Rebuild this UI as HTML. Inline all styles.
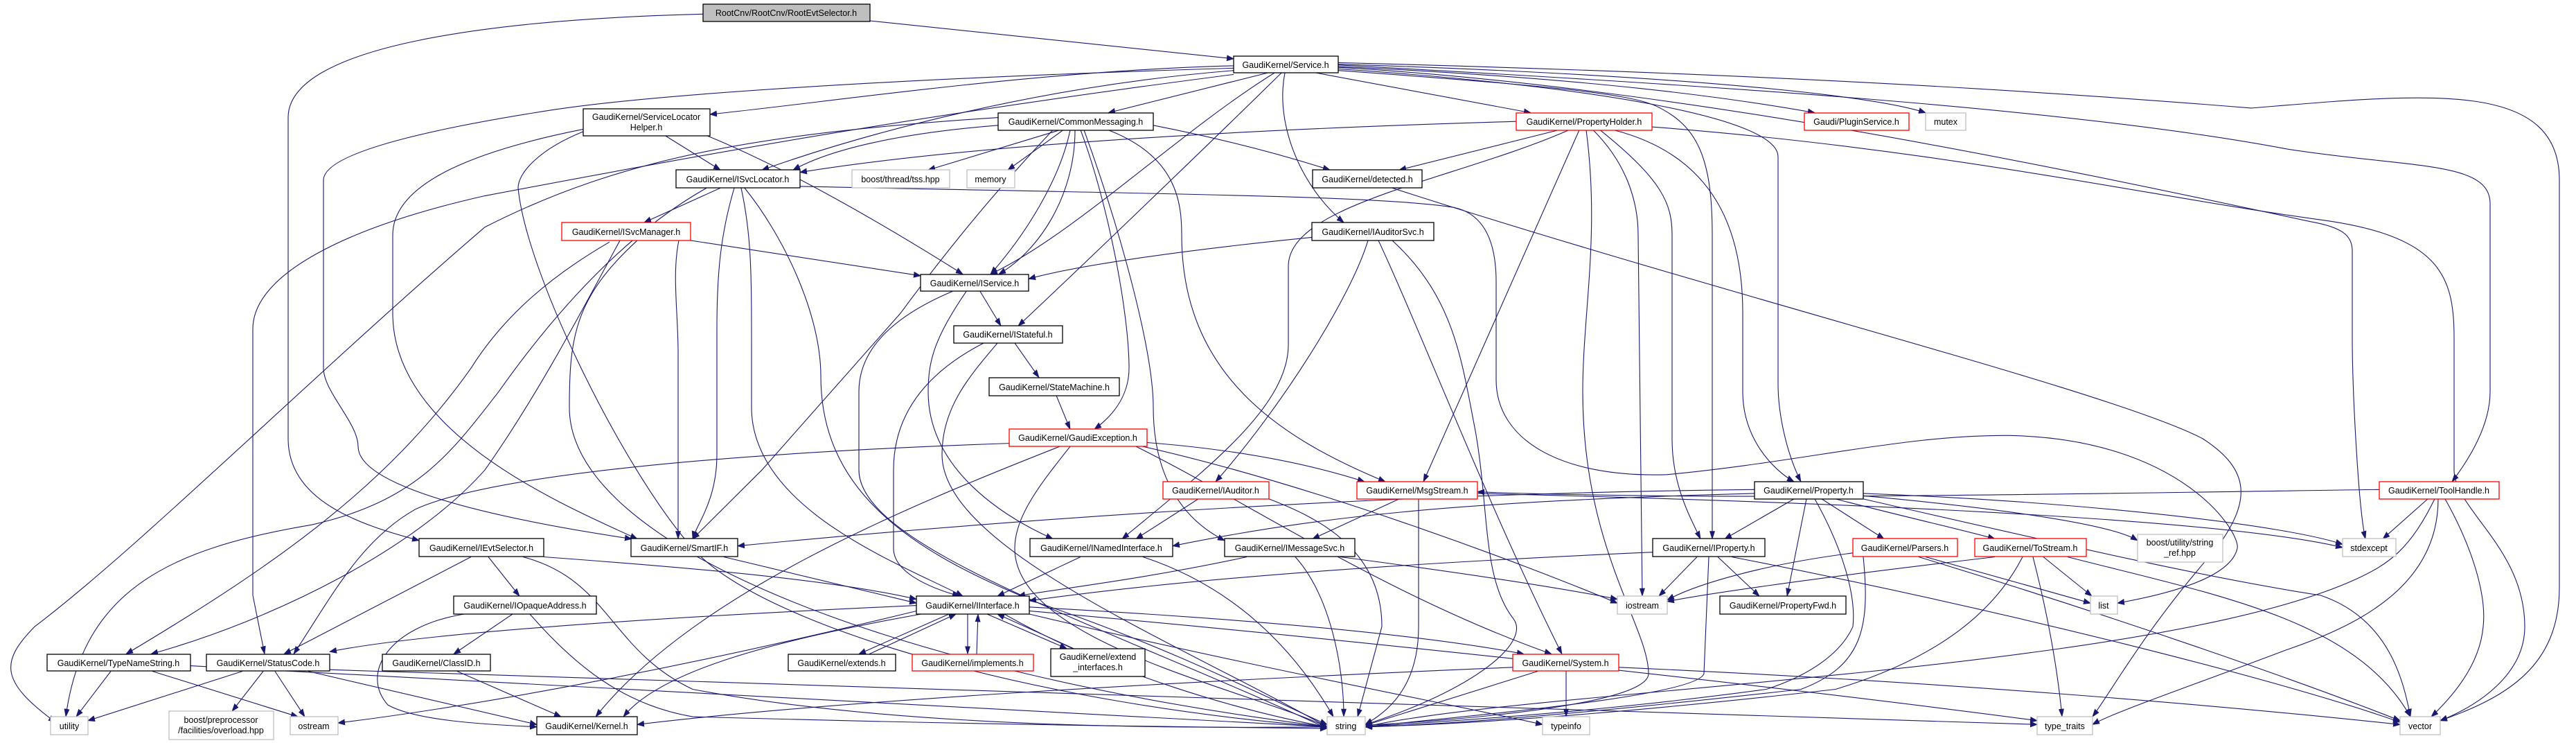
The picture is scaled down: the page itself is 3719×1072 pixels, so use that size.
<!DOCTYPE html>
<html><head><meta charset="utf-8"><style>
html,body{margin:0;padding:0;background:#fff;}
svg{display:block;}
text{font-family:"Liberation Sans",Arial,sans-serif;font-size:12.5px;fill:#000;text-anchor:middle;}
.e path{fill:none;stroke:#191970;stroke-width:1.1;vector-effect:non-scaling-stroke;}
.n{fill:#fff;stroke:#000;stroke-width:1.3;}
.r{fill:#fff;stroke:#ff0000;stroke-width:1.3;}
.g{fill:#fff;stroke:#bfbfbf;stroke-width:1.3;}
</style></head><body>
<svg width="3719" height="1072" viewBox="0 0 3719 1072" xmlns="http://www.w3.org/2000/svg">
<defs><marker id="a" markerUnits="userSpaceOnUse" markerWidth="11" markerHeight="8" refX="10" refY="4" orient="auto"><path d="M0,0 L11,4 L0,8 z" fill="#191970"/></marker></defs>
<g class="e" transform="scale(1,1.1301)" marker-end="url(#a)">
<path d="M1250,26 L1781,75"/>
<path d="M1015,18 C700,25 416,60 416,150 L416,560 C416,640 520,670 605,690"/>
<path d="M1781,84 C1500,90 1200,130 1025,146"/>
<path d="M1830,93 L1600,144"/>
<path d="M1781,90 C1500,110 1250,170 1100,217"/>
<path d="M1840,93 C1700,170 1550,300 1430,350"/>
<path d="M1850,93 C1750,180 1550,350 1470,416"/>
<path d="M1855,93 C1840,160 1880,240 1940,284"/>
<path d="M1900,93 L2210,144"/>
<path d="M1932,85 C2300,100 2500,125 2620,144"/>
<path d="M1932,82 C2400,95 2700,120 2780,144"/>
<path d="M1932,80 C2600,95 3000,120 3250,138 C3500,120 3695,100 3695,230 L3695,750 C3695,850 3620,890 3523,920"/>
<path d="M1932,83 C2500,110 3000,140 3300,190 C3480,215 3595,205 3595,260 L3595,500 C3595,540 3570,580 3540,615"/>
<path d="M1932,86 C2400,110 2900,200 3336,283 C3380,290 3396,300 3396,320 L3396,430 C3396,500 3405,650 3415,688"/>
<path d="M1932,88 C2300,110 2567,150 2567,200 L2567,490 C2567,530 2580,580 2600,615"/>
<path d="M1932,90 C2250,110 2350,120 2390,135 C2450,160 2472,200 2472,300 L2472,688"/>
<path d="M1781,87 C1300,100 950,120 800,140 C580,170 467,200 467,230 L467,470 C467,500 517,540 517,570 C517,620 700,660 912,688"/>
<path d="M1781,95 C1300,150 1000,200 700,250 C500,290 365,350 365,420 L365,760 L382,835"/>
<path d="M1441,160 C1300,170 1200,190 1145,217"/>
<path d="M1530,166 L1340,217"/>
<path d="M1535,166 L1455,217"/>
<path d="M1545,166 C1530,230 1480,300 1430,350"/>
<path d="M1552,166 C1552,250 1500,320 1442,350"/>
<path d="M1560,166 C1600,260 1630,400 1630,470 C1630,510 1600,535 1580,548"/>
<path d="M1565,166 C1620,300 1665,450 1665,520 C1665,600 1700,660 1768,690"/>
<path d="M1600,166 C1700,200 1706,260 1706,300 C1706,480 1850,560 2000,615"/>
<path d="M1665,160 C1780,180 1860,200 1920,217"/>
<path d="M1520,166 C1420,260 1350,340 1300,400 L1100,600 L1000,688"/>
<path d="M2189,155 C1800,165 1400,185 1155,220"/>
<path d="M2250,166 L2020,217"/>
<path d="M2280,166 L2055,615"/>
<path d="M2265,166 C2100,230 1860,260 1860,340 L1860,440 C1860,520 1740,600 1620,688"/>
<path d="M2290,166 C2310,300 2285,400 2285,500 C2285,700 2380,800 2380,860 C2380,900 2100,920 1971,926"/>
<path d="M2300,166 C2350,210 2365,260 2365,300 L2371,761"/>
<path d="M2310,166 C2400,230 2414,260 2414,300 L2414,560 C2414,620 2440,660 2455,688"/>
<path d="M2330,166 C2480,200 2516,300 2516,400 L2516,500 C2516,560 2560,600 2590,615"/>
<path d="M2385,162 C2800,190 3100,250 3345,280 C3520,300 3543,350 3543,430 L3543,600 C3543,650 3645,700 3645,800 C3645,860 3580,900 3523,920"/>
<path d="M1040,240 L930,284"/>
<path d="M1060,240 C1040,300 1035,350 1035,420 L1035,580 C1035,640 1005,670 1000,688"/>
<path d="M980,307 C970,350 979,400 979,450 L979,688"/>
<path d="M1070,240 C1085,300 1085,350 1085,450 L1085,520 C1085,650 1300,720 1390,761"/>
<path d="M1075,240 C1130,300 1185,400 1185,480 C1185,620 1300,700 1500,770 C1700,830 1850,900 1916,925"/>
<path d="M1155,238 C1700,248 2000,250 2100,265 C2150,275 2160,320 2160,360 L2160,485 C2160,560 2250,610 2406,606 C2600,590 2750,555 2900,556 C3150,560 3235,680 3230,700 C3220,740 3120,760 3057,770"/>
<path d="M997,307 L1329,352"/>
<path d="M880,309 C800,350 730,400 680,470 C560,620 400,720 182,835"/>
<path d="M895,307 C850,380 780,500 700,600 C600,700 400,790 218,835"/>
<path d="M920,307 C830,380 822,430 822,520 C822,700 1300,860 1916,928"/>
<path d="M1415,372 L1445,416"/>
<path d="M1395,372 C1350,430 1340,460 1340,500 C1340,600 1450,660 1520,688"/>
<path d="M1375,372 C1300,400 1240,440 1240,500 L1240,600 C1240,700 1600,800 1916,930"/>
<path d="M1465,438 L1500,482"/>
<path d="M1420,438 C1350,470 1290,520 1290,600 L1290,700 C1290,730 1340,750 1385,761"/>
<path d="M1440,438 C1400,480 1360,520 1360,580 C1360,700 1700,820 1916,928"/>
<path d="M1525,505 L1545,548"/>
<path d="M1457,566 C1000,580 700,610 600,650 C520,690 480,760 424,835"/>
<path d="M1530,570 C1300,650 1000,760 860,915"/>
<path d="M1545,570 C1500,620 1465,660 1465,700 C1465,820 1800,880 1916,928"/>
<path d="M1640,570 C1800,640 2000,760 2240,835"/>
<path d="M1650,570 C1900,620 2200,720 2335,770"/>
<path d="M1656,565 C1800,575 1900,595 1970,615"/>
<path d="M1894,303 C1700,320 1550,340 1485,356"/>
<path d="M1975,307 C1950,380 1850,520 1755,615"/>
<path d="M1990,307 C2050,420 2150,650 2255,835"/>
<path d="M2010,307 C2100,380 2110,460 2130,550 C2150,650 2140,740 2185,790 C2210,820 2130,880 1971,925"/>
<path d="M1730,637 L1640,688"/>
<path d="M1832,637 C1900,660 1995,700 1995,800 L1960,915"/>
<path d="M2020,637 L1895,688"/>
<path d="M2048,637 L2048,800 C2048,880 2000,910 1971,925"/>
<path d="M2133,630 C2600,640 3200,660 3382,699"/>
<path d="M1800,711 C1650,740 1500,755 1470,761"/>
<path d="M1870,711 C1920,760 1940,850 1940,915"/>
<path d="M1935,711 C2100,730 2250,750 2335,765"/>
<path d="M1560,711 L1440,761"/>
<path d="M1650,711 C1750,740 1850,800 1925,915"/>
<path d="M1045,711 L1323,770"/>
<path d="M705,711 L750,761"/>
<path d="M680,711 L410,835"/>
<path d="M785,711 C1000,725 1200,740 1323,765"/>
<path d="M755,711 C880,740 880,830 1000,880 C1300,930 1700,930 1916,928"/>
<path d="M740,784 L655,835"/>
<path d="M670,784 C560,800 520,860 560,900 C600,920 700,925 775,928"/>
<path d="M765,784 C830,850 900,900 1000,915 C1400,925 1700,928 1916,930"/>
<path d="M1370,784 L1240,835"/>
<path d="M1255,835 L1380,784"/>
<path d="M1397,784 L1397,835"/>
<path d="M1410,835 L1412,784"/>
<path d="M1425,784 L1540,828"/>
<path d="M1550,828 L1440,784"/>
<path d="M1323,773 C900,790 600,810 476,832"/>
<path d="M1330,784 C1100,820 950,860 900,915"/>
<path d="M1323,780 C1000,850 700,900 488,923"/>
<path d="M1486,775 C1800,790 2050,810 2200,835"/>
<path d="M1486,780 C2000,820 2600,880 2941,920"/>
<path d="M1486,784 C1800,850 2100,900 2227,925"/>
<path d="M1450,784 C1600,860 1800,910 1916,928"/>
<path d="M2184,852 C1700,870 1200,895 920,925"/>
<path d="M2220,857 L1971,926"/>
<path d="M2261,857 L2261,915"/>
<path d="M2337,852 C2800,870 3200,900 3465,925"/>
<path d="M2590,637 L2490,688"/>
<path d="M2608,637 L2580,761"/>
<path d="M2630,637 L2720,688"/>
<path d="M2650,637 C2750,660 2850,680 2880,688"/>
<path d="M2690,633 C2900,650 3050,670 3086,690"/>
<path d="M2690,630 C3000,640 3300,670 3382,695"/>
<path d="M2620,637 C2660,700 2680,760 2675,800 C2660,830 2620,860 2550,880 C2300,910 2100,920 1971,928"/>
<path d="M2690,637 C3000,700 3200,740 3350,760 C3450,790 3470,870 3480,915"/>
<path d="M2533,625 C2000,630 1500,660 1065,697"/>
<path d="M2533,630 C2100,640 1900,660 1693,697"/>
<path d="M2450,711 L2395,761"/>
<path d="M2480,711 L2540,761"/>
<path d="M2467,711 L2460,860 C2450,890 2100,915 1971,928"/>
<path d="M2386,705 C2000,720 1700,740 1486,767"/>
<path d="M2500,711 C2900,780 3300,870 3465,922"/>
<path d="M2780,711 L3018,770"/>
<path d="M2770,711 C3100,800 3350,880 3465,920"/>
<path d="M2690,711 C2700,800 2690,850 2600,880 C2300,910 2100,925 1971,928"/>
<path d="M2675,706 C2550,720 2450,745 2407,766"/>
<path d="M2950,711 L3020,761"/>
<path d="M2935,711 C2955,780 2970,850 2977,915"/>
<path d="M2985,711 C3200,760 3400,790 3480,915"/>
<path d="M2920,711 C2880,780 2800,840 2650,880 C2300,915 2100,925 1971,928"/>
<path d="M2880,711 C2600,740 2450,760 2407,768"/>
<path d="M3505,637 L3440,688"/>
<path d="M3530,637 C3570,700 3590,760 3585,800 C3580,850 3540,890 3510,915"/>
<path d="M3520,637 C3520,750 3400,800 3300,830 C3150,880 3050,910 3021,925"/>
<path d="M3515,637 C3480,700 3450,720 3400,740 C3100,860 2200,880 1971,928"/>
<path d="M3435,625 C3000,630 2500,640 2133,628"/>
<path d="M2010,240 C2500,380 3050,500 3180,560 C3250,600 3250,640 3200,700 C3100,800 3050,880 3021,915"/>
<path d="M350,857 L127,920"/>
<path d="M380,857 L335,908"/>
<path d="M397,857 L440,915"/>
<path d="M445,857 L775,925"/>
<path d="M476,855 C1200,880 2200,900 2941,925"/>
<path d="M160,857 L110,915"/>
<path d="M220,857 L430,915"/>
<path d="M275,850 C1000,880 1500,910 1916,928"/>
<path d="M660,857 L810,915"/>
<path d="M960,173 L1040,217"/>
<path d="M1020,173 C1150,220 1300,300 1390,350"/>
<path d="M842,165 C700,190 567,230 567,300 L567,400 C567,550 800,640 920,688"/>
<path d="M842,168 C780,190 748,220 748,240 C760,350 900,600 1000,700 C1100,800 1500,900 1916,928"/>
<path d="M1441,150 C1100,170 900,200 700,290 C450,480 200,700 50,800 C0,845 0,870 80,922"/>
<path d="M1020,240 C900,300 800,400 720,500 C650,580 600,640 450,670 C250,700 120,750 95,915"/>
</g>
<g>
<rect x="1015" y="6" width="241" height="25" fill="#bfbfbf" stroke="#000" stroke-width="1.3"/><text x="1135" y="23">RootCnv/RootCnv/RootEvtSelector.h</text>
<rect class="n" x="1781" y="81" width="151" height="24"/><text x="1856" y="98">GaudiKernel/Service.h</text>
<rect class="n" x="842" y="157" width="183" height="39"/><text x="933" y="173">GaudiKernel/ServiceLocator</text><text x="933" y="188">Helper.h</text>
<rect class="n" x="1441" y="163" width="224" height="25"/><text x="1553" y="180">GaudiKernel/CommonMessaging.h</text>
<rect class="r" x="2189" y="163" width="196" height="25"/><text x="2287" y="180">GaudiKernel/PropertyHolder.h</text>
<rect class="r" x="2605" y="163" width="151" height="25"/><text x="2680" y="180">Gaudi/PluginService.h</text>
<rect class="g" x="2780" y="163" width="58" height="25"/><text x="2809" y="180">mutex</text>
<rect class="n" x="976" y="245" width="179" height="26"/><text x="1065" y="263">GaudiKernel/ISvcLocator.h</text>
<rect class="g" x="1230" y="245" width="141" height="26"/><text x="1300" y="263">boost/thread/tss.hpp</text>
<rect class="g" x="1396" y="245" width="69" height="26"/><text x="1430" y="263">memory</text>
<rect class="n" x="1895" y="245" width="158" height="26"/><text x="1974" y="263">GaudiKernel/detected.h</text>
<rect class="r" x="811" y="321" width="186" height="26"/><text x="904" y="339">GaudiKernel/ISvcManager.h</text>
<rect class="n" x="1894" y="321" width="176" height="26"/><text x="1982" y="339">GaudiKernel/IAuditorSvc.h</text>
<rect class="n" x="1329" y="396" width="156" height="24"/><text x="1407" y="413">GaudiKernel/IService.h</text>
<rect class="n" x="1377" y="470" width="157" height="25"/><text x="1455" y="487">GaudiKernel/IStateful.h</text>
<rect class="n" x="1428" y="545" width="188" height="26"/><text x="1522" y="563">GaudiKernel/StateMachine.h</text>
<rect class="r" x="1457" y="619" width="199" height="25"/><text x="1556" y="636">GaudiKernel/GaudiException.h</text>
<rect class="r" x="1679" y="695" width="153" height="25"/><text x="1755" y="712">GaudiKernel/IAuditor.h</text>
<rect class="r" x="1959" y="695" width="174" height="25"/><text x="2046" y="712">GaudiKernel/MsgStream.h</text>
<rect class="n" x="2533" y="695" width="157" height="25"/><text x="2611" y="712">GaudiKernel/Property.h</text>
<rect class="r" x="3435" y="695" width="173" height="25"/><text x="3521" y="712">GaudiKernel/ToolHandle.h</text>
<rect class="n" x="605" y="777" width="180" height="26"/><text x="695" y="795">GaudiKernel/IEvtSelector.h</text>
<rect class="n" x="911" y="777" width="154" height="26"/><text x="988" y="795">GaudiKernel/SmartIF.h</text>
<rect class="n" x="1487" y="777" width="206" height="26"/><text x="1590" y="795">GaudiKernel/INamedInterface.h</text>
<rect class="n" x="1768" y="777" width="188" height="26"/><text x="1862" y="795">GaudiKernel/IMessageSvc.h</text>
<rect class="n" x="2386" y="777" width="162" height="26"/><text x="2467" y="795">GaudiKernel/IProperty.h</text>
<rect class="r" x="2675" y="777" width="151" height="26"/><text x="2750" y="795">GaudiKernel/Parsers.h</text>
<rect class="r" x="2851" y="777" width="161" height="26"/><text x="2931" y="795">GaudiKernel/ToStream.h</text>
<rect class="g" x="3086" y="771" width="123" height="40"/><text x="3147" y="787">boost/utility/string</text><text x="3147" y="802">_ref.hpp</text>
<rect class="g" x="3382" y="777" width="77" height="26"/><text x="3420" y="795">stdexcept</text>
<rect class="n" x="655" y="860" width="206" height="26"/><text x="758" y="878">GaudiKernel/IOpaqueAddress.h</text>
<rect class="n" x="1323" y="860" width="163" height="26"/><text x="1404" y="878">GaudiKernel/IInterface.h</text>
<rect class="g" x="2335" y="860" width="72" height="26"/><text x="2371" y="878">iostream</text>
<rect class="n" x="2483" y="860" width="182" height="26"/><text x="2574" y="878">GaudiKernel/PropertyFwd.h</text>
<rect class="g" x="3018" y="860" width="39" height="26"/><text x="3037" y="878">list</text>
<rect class="n" x="68" y="944" width="207" height="24"/><text x="171" y="961">GaudiKernel/TypeNameString.h</text>
<rect class="n" x="298" y="944" width="178" height="24"/><text x="387" y="961">GaudiKernel/StatusCode.h</text>
<rect class="n" x="552" y="944" width="156" height="24"/><text x="630" y="961">GaudiKernel/ClassID.h</text>
<rect class="n" x="1138" y="944" width="155" height="24"/><text x="1215" y="961">GaudiKernel/extends.h</text>
<rect class="r" x="1317" y="944" width="175" height="24"/><text x="1404" y="961">GaudiKernel/implements.h</text>
<rect class="n" x="1517" y="936" width="136" height="40"/><text x="1585" y="952">GaudiKernel/extend</text><text x="1585" y="967">_interfaces.h</text>
<rect class="r" x="2184" y="944" width="153" height="24"/><text x="2260" y="961">GaudiKernel/System.h</text>
<rect class="g" x="73" y="1034" width="54" height="26"/><text x="100" y="1052">utility</text>
<rect class="g" x="244" y="1026" width="151" height="41"/><text x="319" y="1043">boost/preprocessor</text><text x="319" y="1058">/facilities/overload.hpp</text>
<rect class="g" x="419" y="1034" width="69" height="26"/><text x="453" y="1052">ostream</text>
<rect class="n" x="775" y="1034" width="145" height="26"/><text x="847" y="1052">GaudiKernel/Kernel.h</text>
<rect class="g" x="1916" y="1034" width="55" height="26"/><text x="1943" y="1052">string</text>
<rect class="g" x="2227" y="1034" width="68" height="26"/><text x="2261" y="1052">typeinfo</text>
<rect class="g" x="2941" y="1034" width="80" height="26"/><text x="2981" y="1052">type_traits</text>
<rect class="g" x="3465" y="1034" width="58" height="26"/><text x="3494" y="1052">vector</text>
</g>
</svg>
</body></html>
